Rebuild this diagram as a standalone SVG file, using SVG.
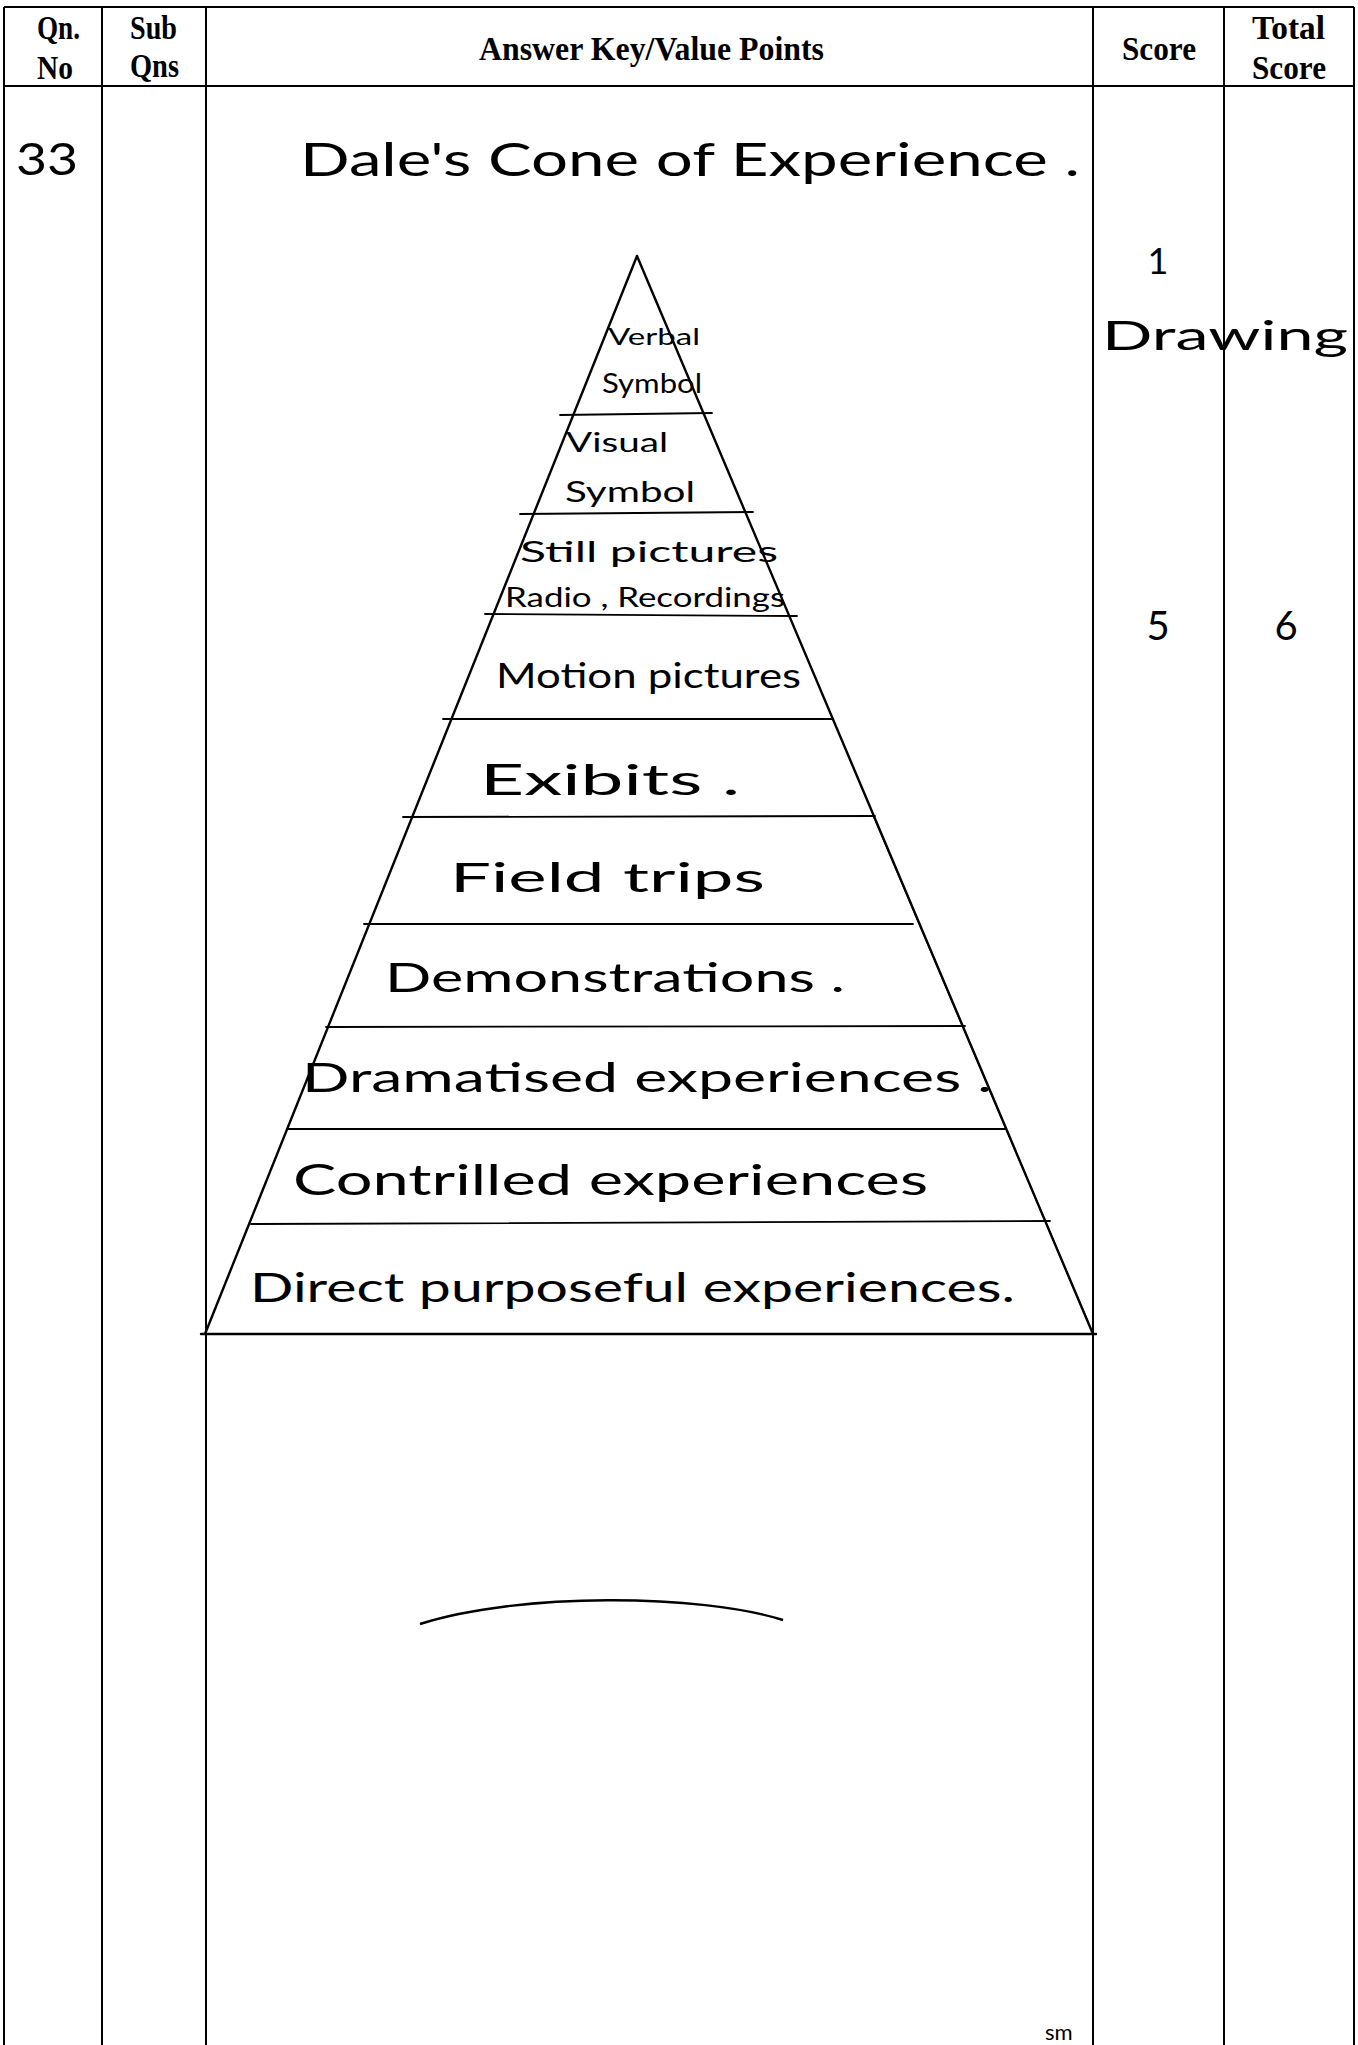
<svg xmlns="http://www.w3.org/2000/svg" width="1358" height="2045" viewBox="0 0 1358 2045">
<style>
.grid{stroke:#000;stroke-width:2;fill:none}
.hd{font-family:"Liberation Serif",serif;font-weight:bold;font-size:33px;fill:#000}
.hw{font-family:"Lato","Open Sans",sans-serif;fill:#000}
.edge{stroke:#000;stroke-width:2.4;fill:none;stroke-linecap:round}
.thin{stroke:#000;stroke-width:1.4;fill:none;stroke-linecap:round}
.tier{stroke:#000;stroke-width:1.8;fill:none;stroke-linecap:round}
</style>
<rect width="1358" height="2045" fill="#fff"/>
<g id="table">
  <line class="grid" x1="4" y1="7" x2="1354" y2="7"/>
  <line class="grid" x1="4" y1="86" x2="1354" y2="86"/>
  <line class="grid" x1="4" y1="7" x2="4" y2="2045"/>
  <line class="grid" x1="102" y1="7" x2="102" y2="2045"/>
  <line class="grid" x1="206" y1="7" x2="206" y2="2045"/>
  <line class="grid" x1="1093" y1="7" x2="1093" y2="2045"/>
  <line class="grid" x1="1224" y1="7" x2="1224" y2="2045"/>
  <line class="grid" x1="1354" y1="7" x2="1354" y2="2045"/>
</g>
<g id="header">
  <text class="hd" x="37" y="39" textLength="43" lengthAdjust="spacingAndGlyphs">Qn.</text>
  <text class="hd" x="37" y="79" textLength="36" lengthAdjust="spacingAndGlyphs">No</text>
  <text class="hd" x="130" y="39" textLength="47" lengthAdjust="spacingAndGlyphs">Sub</text>
  <text class="hd" x="130" y="77" textLength="49" lengthAdjust="spacingAndGlyphs">Qns</text>
  <text class="hd" x="479" y="60" textLength="345" lengthAdjust="spacingAndGlyphs">Answer Key/Value Points</text>
  <text class="hd" x="1122" y="60" textLength="74" lengthAdjust="spacingAndGlyphs">Score</text>
  <text class="hd" x="1252" y="39" textLength="73" lengthAdjust="spacingAndGlyphs">Total</text>
  <text class="hd" x="1252" y="79" textLength="74" lengthAdjust="spacingAndGlyphs">Score</text>
</g>
<g id="question">
  <text class="hw" x="16" y="175" font-size="44" textLength="62" lengthAdjust="spacingAndGlyphs">33</text>
</g>
<g id="title">
  <text class="hw" x="300" y="176" font-size="46" textLength="780" lengthAdjust="spacingAndGlyphs">Dale's Cone of Experience .</text>
</g>
<g id="cone">
  <path class="edge" d="M637 256 L205 1334"/>
  <path class="edge" d="M637 256 L1093 1334"/>
  <path class="thin" d="M873 815 L1088 1322"/>
  <line class="edge" x1="201" y1="1334" x2="1096" y2="1334"/>
  <line class="tier" x1="560" y1="415" x2="712" y2="413"/>
  <line class="tier" x1="520" y1="514" x2="753" y2="512"/>
  <line class="tier" x1="485" y1="614" x2="797" y2="616"/>
  <line class="tier" x1="443" y1="719" x2="833" y2="719"/>
  <line class="tier" x1="403" y1="817" x2="875" y2="816"/>
  <line class="tier" x1="364" y1="924" x2="913" y2="924"/>
  <line class="tier" x1="326" y1="1027" x2="965" y2="1026"/>
  <line class="tier" x1="287" y1="1129" x2="1005" y2="1129"/>
  <line class="tier" x1="251" y1="1224" x2="1050" y2="1221"/>
</g>
<g id="tiers">
  <text class="hw" x="608" y="345" font-size="24" textLength="92" lengthAdjust="spacingAndGlyphs">Verbal</text>
  <text class="hw" x="602" y="393" font-size="26" textLength="100" lengthAdjust="spacingAndGlyphs">Symbol</text>
  <text class="hw" x="566" y="452" font-size="26" textLength="102" lengthAdjust="spacingAndGlyphs">Visual</text>
  <text class="hw" x="565" y="502" font-size="28" textLength="130" lengthAdjust="spacingAndGlyphs">Symbol</text>
  <text class="hw" x="520" y="562" font-size="28" textLength="258" lengthAdjust="spacingAndGlyphs">Still pictures</text>
  <text class="hw" x="505" y="607" font-size="26" textLength="280" lengthAdjust="spacingAndGlyphs">Radio , Recordings</text>
  <text class="hw" x="496" y="688" font-size="34" textLength="305" lengthAdjust="spacingAndGlyphs">Motion pictures</text>
  <text class="hw" x="480" y="795" font-size="42" textLength="260" lengthAdjust="spacingAndGlyphs">Exibits .</text>
  <text class="hw" x="450" y="892" font-size="40" textLength="315" lengthAdjust="spacingAndGlyphs">Field trips</text>
  <text class="hw" x="385" y="992" font-size="40" textLength="460" lengthAdjust="spacingAndGlyphs">Demonstrations .</text>
  <text class="hw" x="302" y="1092" font-size="40" textLength="690" lengthAdjust="spacingAndGlyphs">Dramatised experiences .</text>
  <text class="hw" x="293" y="1195" font-size="42" textLength="635" lengthAdjust="spacingAndGlyphs">Contrilled experiences</text>
  <text class="hw" x="250" y="1302" font-size="40" textLength="765" lengthAdjust="spacingAndGlyphs">Direct purposeful experiences.</text>
</g>
<g id="scores">
  <text class="hw" x="1158" y="274" font-size="36" text-anchor="middle">1</text>
  <text class="hw" x="1102" y="350" font-size="40" textLength="246" lengthAdjust="spacingAndGlyphs">Drawing</text>
  <text class="hw" x="1158" y="640" font-size="40" text-anchor="middle">5</text>
  <text class="hw" x="1286" y="640" font-size="40" text-anchor="middle">6</text>
</g>
<g id="marks">
  <path d="M420 1624 C520 1592 700 1594 783 1620" stroke="#000" stroke-width="2.4" fill="none"/>
  <text class="hw" x="1045" y="2040" font-size="22">sm</text>
</g>
</svg>
